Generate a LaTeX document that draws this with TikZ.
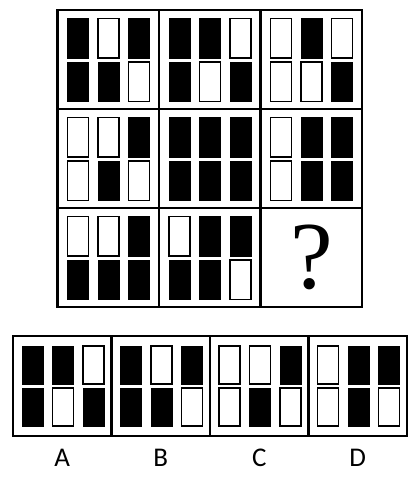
\documentclass[tikz,border=0pt]{standalone}
\usepackage{fontspec}
\newfontfamily\labelfont{Carlito}
\newfontfamily\queryfont{Liberation Serif}

\tikzset{
	slat1/.style={fill=black,draw=black,line width=.8pt},
	slat0/.style={fill=white,draw=black,line width=1.6pt},
	frame/.style={draw=black,line width=2.2pt},
}

\begin{document}
\begin{tikzpicture}[x=1pt,y=-1pt]
\useasboundingbox (0,0) rectangle (417,480);
	\foreach \cx/\cy/\pat in {0/0/{1,0,1,1,1,0},1/0/{1,1,0,1,0,1},2/0/{0,1,0,0,0,1},
		0/1/{0,0,1,0,1,0},1/1/{1,1,1,1,1,1},2/1/{0,1,1,0,1,1},
		0/2/{0,0,1,1,1,1},1/2/{0,1,1,1,1,0}} {
		\foreach \v [count=\i from 0] in \pat {
			\pgfmathsetmacro\sx{57.5+\cx*101.5+10+mod(\i,3)*30.5}
			\pgfmathsetmacro\sy{10+\cy*99+8.5+int(\i/3)*43.5}
			\draw[slat\v] (\sx,\sy) rectangle ++(21,39.5);
			}
		}
	\foreach \cx/\pat in {0/{1,1,0,1,0,1},1/{1,0,1,1,1,0},2/{0,0,1,0,1,0},3/{0,1,1,0,1,0}} {
		\foreach \v [count=\i from 0] in \pat {
			\pgfmathsetmacro\sx{13+\cx*98.5+9+mod(\i,3)*30.5}
			\pgfmathsetmacro\sy{336+10+int(\i/3)*42}
			\draw[slat\v] (\sx,\sy) rectangle ++(21,38);
			}
		}

\draw[frame] (57.5,10) rectangle (362,307);
\draw[frame] (159,10) -- (159,307) (260.5,10) -- (260.5,307);
\draw[frame] (57.5,109) -- (362,109) (57.5,208) -- (362,208);
\node (query) at (312,257.5) {\queryfont\fontsize{96}{96}\selectfont ?};

\draw[frame] (13,336) rectangle (407,436);
\draw[frame] (111.5,336) -- (111.5,436) (210,336) -- (210,436) (308.5,336) -- (308.5,436);
\node (optA) at (62.25,458) {\labelfont\fontsize{27}{27}\selectfont A};
\node (optB) at (160.75,458) {\labelfont\fontsize{27}{27}\selectfont B};
\node (optC) at (259.25,458) {\labelfont\fontsize{27}{27}\selectfont C};
\node (optD) at (357.75,458) {\labelfont\fontsize{27}{27}\selectfont D};
\end{tikzpicture}
\end{document}
